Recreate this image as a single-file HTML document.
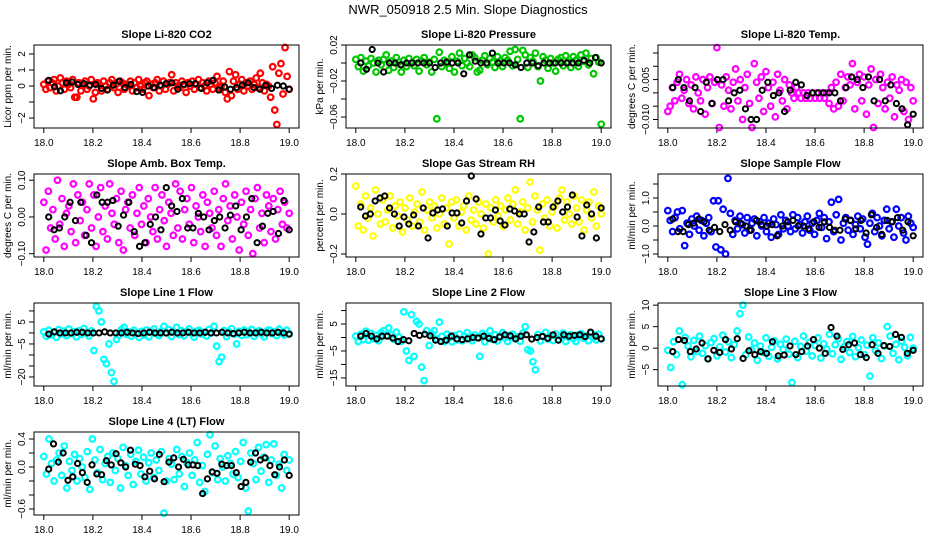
<!DOCTYPE html>
<html><head><meta charset="utf-8">
<style>
html,body{margin:0;padding:0;background:#fff;}
svg{display:block;font-family:"Liberation Sans",sans-serif;}
</style></head>
<body>
<svg id="chart" width="936" height="540" viewBox="0 0 936 540" xmlns="http://www.w3.org/2000/svg">
<rect width="936" height="540" fill="#fff"/>
<text x="468" y="14" text-anchor="middle" font-size="13">NWR_050918  2.5 Min. Slope Diagnostics</text>
</svg>
<script>
const xTicks = [18.0, 18.2, 18.4, 18.6, 18.8, 19.0];
const xTickLabels = ["18.0", "18.2", "18.4", "18.6", "18.8", "19.0"];

const titles = ["Slope Li-820 CO2","Slope Li-820 Pressure","Slope Li-820 Temp.","Slope Amb. Box Temp.","Slope Gas Stream RH","Slope Sample Flow","Slope Line 1 Flow","Slope Line 2 Flow","Slope Line 3 Flow","Slope Line 4 (LT) Flow"];
const yTitles = ["Licor ppm per min.","kPa per min.","degrees C per min.","degrees C per min.","percent per min.","ml/min per min.","ml/min per min.","ml/min per min.","ml/min per min.","ml/min per min."];
const colors = ["#ff0000","#00c800","#ff00ff","#ff00ff","#ffff00","#0000ff","#00ffff","#00ffff","#00ffff","#00ffff"];
const yDomains = [[-2.62,2.56],[-0.0722,0.02],[-0.0132,0.018],[-0.109,0.117],[-0.215,0.2],[-1.107,1.857],[-24.1,13.6],[-18,12.8],[-8.8,10.5],[-0.686,0.5]];
const yTicks = [[-2,-1,0,1,2],[-0.06,-0.04,-0.02,0,0.02],[-0.010,-0.005,0,0.005,0.010,0.015],[-0.1,0,0.1],[-0.2,0,0.2],[-1,-0.5,0,0.5,1,1.5],[-20,-15,-10,-5,0,5,10],[-15,-10,-5,0,5,10],[-5,0,5,10],[-0.6,-0.4,-0.2,0,0.2,0.4]];
const yTickLabels = [["−2","","0","1","2"],["−0.06","","−0.02","","0.02"],["−0.010","","","0.005","",""],["−0.10","0.00","0.10"],["−0.2","0.0","0.2"],["−1.0","","0.0","","1.0",""],["−20","","","−5","","5",""],["−15","","−5","","5",""],["−5","0","5","10"],["−0.6","","","0.0","","0.4"]];

const co2 = [0.1,-0.2,0.3,-0.1,0.2,0.4,-0.3,0.0,0.5,0.2,-0.2,0.3,0.1,-0.1,0.4,-0.7,-0.7,0.2,-0.3,0.1,0.3,-0.2,0.0,0.4,-0.8,-0.4,0.2,0.1,-0.3,0.3,0.0,-0.2,0.2,0.4,-0.1,0.1,-0.4,0.3,0.2,-0.2,0.1,0.0,0.3,-0.3,0.2,-0.1,0.4,0.0,-0.2,0.2,0.3,-0.6,0.1,-0.1,0.2,0.4,-0.3,0.0,0.3,-0.2,0.1,0.2,0.7,-0.3,0.2,0.0,-0.1,0.3,0.1,-0.4,0.2,0.0,0.3,-0.2,0.1,0.4,-0.1,0.2,0.0,-0.3,0.3,0.1,-0.2,0.2,0.6,-0.1,0.0,0.3,-0.4,-0.8,0.9,-0.6,0.3,0.7,-0.2,0.1,0.4,-0.3,0.2,0.0,0.3,-0.2,0.1,0.5,-0.1,0.8,0.2,-0.3,0.1,0.0,-0.7,1.2,-1.5,-2.4,0.8,1.4,-0.5,2.4,0.6,-0.2];
const co2Black = [0.35,-0.05,-0.3,0.2,0.25,0.1,0.15,0.05,0.1,-0.15,-0.25,0.05,0.3,-0.1,0.1,-0.35,-0.4,0.0,-0.1,0.05,0.15,0.2,-0.2,0.1,0.15,0.15,-0.15,0.2,0.35,-0.25,-0.05,-0.2,-0.1,0.05,0.2,-0.1,-0.2,0.05,-0.15,0.05,0.0,-0.2];
const pressure = [0.004,-0.004,0.006,-0.009,0.002,-0.003,0.005,0.0,-0.01,0.003,-0.002,0.004,0.009,-0.008,0.002,-0.005,0.006,0.001,-0.01,0.003,-0.004,0.005,0.0,-0.003,0.004,-0.009,0.002,0.006,-0.002,0.001,-0.01,0.004,-0.062,0.012,-0.004,0.003,0.0,-0.006,0.007,-0.01,0.002,0.011,-0.003,0.005,0.0,-0.004,0.009,0.006,-0.01,-0.008,0.003,0.008,-0.002,0.005,0.001,-0.005,0.007,0.002,-0.004,0.006,0.003,0.013,-0.003,0.015,0.004,-0.062,0.014,0.009,-0.005,0.006,0.002,0.011,-0.004,-0.02,0.007,0.003,-0.006,0.005,0.0,-0.009,0.004,0.006,-0.003,0.008,0.001,-0.005,0.007,0.003,-0.004,0.009,0.002,0.011,-0.002,0.005,-0.012,0.006,0.001,-0.068];
const pressureBlack = [0.0,-0.007,0.015,0.0,-0.01,0.0,0.0,-0.002,0.0,0.0,0.0,0.0,0.0,-0.005,0.0,0.001,0.0,0.0,-0.012,0.009,0.002,0.0,0.0,0.011,0.0,0.0,0.0,-0.002,-0.005,0.0,0.0,-0.003,0.0,0.0,0.0,0.0,0.0,0.0,0.0,0.003,0.0,0.006,0.0];
const licorTemp = [-0.007,-0.005,0.002,-0.003,0.004,0.007,-0.002,0.001,0.005,-0.004,0.003,-0.006,0.006,0.0,-0.003,0.005,-0.008,0.002,0.006,-0.004,0.004,0.017,-0.013,0.003,-0.005,0.006,0.001,-0.006,0.004,0.009,-0.003,0.005,-0.01,0.002,0.007,-0.004,-0.013,0.011,0.004,-0.002,0.006,-0.007,0.008,0.002,-0.005,0.004,-0.009,0.007,0.001,-0.003,0.005,-0.006,0.003,0.0,-0.002,0.002,0.0,-0.002,0.0,-0.002,0.0,-0.002,0.0,-0.002,0.0,-0.002,0.0,-0.002,0.0,-0.004,0.002,-0.006,0.004,-0.005,0.007,-0.003,0.002,0.006,0.003,0.011,-0.006,0.004,0.007,-0.003,0.006,-0.008,0.003,0.009,-0.013,0.005,-0.004,0.007,0.002,-0.006,0.004,-0.002,0.006,-0.009,0.003,0.001,0.005,-0.007,0.004,-0.010,0.002,-0.003];
const licorTempBlack = [0.002,0.005,0.002,-0.003,0.002,-0.007,0.004,-0.004,0.005,0.005,-0.003,0.0,0.001,-0.006,-0.010,-0.010,0.001,0.004,-0.001,0.0,-0.007,0.001,0.004,0.003,-0.001,0.0,0.0,0.0,0.0,0.0,-0.003,0.002,0.006,0.005,0.002,0.006,-0.003,0.005,-0.003,0.003,-0.004,-0.006,-0.012,-0.008];
const boxTemp = [0.04,-0.09,0.07,-0.03,0.02,-0.06,0.10,-0.02,0.05,-0.08,0.01,0.03,-0.04,0.09,-0.07,0.06,-0.01,0.04,-0.05,0.02,0.09,-0.03,0.06,-0.08,0.0,0.08,-0.04,0.03,-0.06,0.09,0.01,-0.02,0.05,-0.07,0.07,-0.09,0.02,0.04,-0.03,0.06,-0.05,0.01,0.08,-0.02,0.03,-0.07,0.05,0.0,-0.04,0.08,-0.06,0.02,0.06,-0.01,-0.08,0.04,0.01,-0.05,0.09,-0.03,0.07,-0.06,0.02,0.05,-0.02,0.08,-0.07,0.03,0.0,-0.04,0.06,-0.08,0.04,0.01,-0.03,0.07,-0.05,0.02,-0.08,0.05,0.09,-0.01,0.03,-0.06,0.06,0.0,-0.09,0.04,-0.02,0.07,-0.05,0.02,-0.10,0.05,0.08,-0.03,0.01,-0.07,0.06,0.03,-0.04,0.05,-0.06,0.02,0.07,-0.02,0.04,-0.03,0.01];
const boxTempBlack = [0.0,-0.035,-0.03,0.0,0.04,-0.01,0.04,-0.05,-0.07,0.06,0.04,0.04,0.045,-0.025,0.005,0.04,-0.04,-0.08,-0.07,-0.02,0.0,-0.035,0.08,0.03,0.015,0.05,-0.03,-0.03,0.01,0.0,-0.035,-0.01,0.0,-0.03,0.005,0.03,-0.035,0.0,0.05,-0.07,-0.025,0.01,0.015,-0.045,0.045,-0.035];
const rh = [0.14,-0.06,0.05,-0.08,0.09,-0.02,0.03,-0.11,0.12,0.0,-0.05,0.07,-0.04,0.02,0.09,-0.07,0.04,-0.01,0.06,-0.09,0.03,-0.03,0.08,-0.06,0.01,0.05,-0.04,0.11,-0.08,0.02,0.06,-0.02,0.04,-0.07,0.0,0.08,-0.05,0.03,-0.15,0.06,-0.02,0.07,-0.06,0.01,0.04,-0.08,0.09,-0.03,0.02,-0.05,0.06,0.0,-0.07,0.05,-0.2,0.03,-0.04,0.07,-0.01,0.04,-0.06,0.02,0.08,-0.03,0.05,0.12,-0.05,0.01,0.06,-0.08,0.03,0.16,-0.04,0.09,0.02,-0.18,0.05,-0.02,0.07,-0.06,0.01,0.04,-0.07,0.08,0.12,-0.03,0.06,0.0,-0.05,0.09,0.03,-0.04,0.07,-0.08,0.02,0.06,-0.02,0.11,-0.06,0.04,0.0];
const rhBlack = [0.035,-0.01,0.0,0.065,0.08,0.09,0.03,0.0,-0.06,-0.015,-0.05,-0.005,-0.06,0.03,-0.12,0.005,0.02,0.025,-0.06,0.005,0.005,-0.045,0.065,0.19,0.075,-0.1,-0.02,-0.02,0.02,-0.035,-0.055,0.025,0.015,0.0,0.0,-0.14,-0.09,0.035,-0.04,-0.04,0.035,0.065,0.01,0.035,0.095,-0.015,-0.11,0.045,0.0,-0.12,0.03];
const sampleFlow = [0.55,0.2,-0.2,0.3,0.5,-0.1,0.55,-0.7,0.1,-0.3,0.25,0.0,0.35,-0.15,0.2,-0.35,0.1,0.3,-0.2,0.9,-0.75,0.9,-0.85,0.6,-1.0,1.7,0.45,-0.3,0.2,-0.1,0.35,0.05,-0.25,0.3,-0.15,0.1,0.25,-0.35,0.15,0.0,0.3,-0.2,0.1,-0.4,0.25,0.05,-0.3,0.4,-0.1,0.2,0.0,-0.2,0.4,-0.1,0.3,0.05,-0.25,0.15,0.35,-0.15,0.1,-0.3,0.2,0.45,-0.05,0.3,-0.45,0.15,0.85,-0.2,0.4,0.95,-0.5,0.1,0.3,-0.15,0.2,-0.3,0.05,0.35,-0.1,0.25,-0.4,-0.65,0.1,0.45,-0.2,0.3,0.0,-0.35,0.2,0.6,-0.1,0.15,-0.4,0.6,0.0,0.3,-0.25,-0.5,0.35,0.1,-0.05];
const sampleFlowBlack = [0.25,-0.2,-0.2,0.05,0.1,0.25,0.15,-0.15,-0.05,-0.2,0.05,-0.15,0.15,0.1,0.0,-0.15,0.2,0.05,0.0,0.05,-0.35,0.0,0.15,0.2,0.0,0.0,-0.1,0.15,-0.05,0.15,-0.05,-0.15,-0.15,0.25,0.2,-0.1,0.2,-0.25,0.4,-0.05,-0.3,0.2,0.15,0.3,-0.15,0.15,-0.35];
const line1 = [0.5,-1.5,1.2,-0.8,0.3,-2,1.5,-0.5,0.8,-1.2,1.8,-0.3,0.6,-1.8,1,-0.7,2,0.2,-1.4,0.9,-8,12,10,5,-12,-14,-5,-18,-22,-3,-1,1.5,2.5,-0.6,0.4,-1.5,1.2,0.0,-2,0.7,-0.9,1.3,-1.8,0.5,1.8,-0.4,-1.2,0.9,3,0.0,1.5,-1.6,0.3,2.5,-0.7,1.0,-1.3,0.6,1.8,-0.2,-1.9,0.8,1.2,-0.5,0.2,-1.4,1.6,0.0,3,-6,-13,-11,1.1,-1.7,0.4,1.9,-0.6,-5,0.7,-1.1,1.3,-0.8,0.5,1.6,-1.5,0.2,1.0,-0.4,-1.8,0.9,1.4,-0.3,0.6,-1.2,1.7,0.1,-0.9,1.2,-0.5];
const line1Black = [-0.5,0.5,0.0,0.0,0.0,0.3,0.3,0.0,0.0,0.0,0.5,0.0,0.0,0.0,0.3,0.0,-0.3,0.0,0.3,0.0,0.0,0.0,0.3,0.0,0.0,0.3,0.0,0.0,0.3,0.0,0.0,0.3,0.0,-0.3,0.0,0.3,0.0,0.0,0.3,0.0,0.0,0.3,0.0,-0.5];
const line2 = [0.5,-1.5,1.2,-0.8,2.3,-1.0,1.5,-0.5,0.8,-1.2,1.8,2.5,0.6,3.5,1,-0.7,2,0.2,-1.4,9.5,-5,-8.5,8.5,-7,6,5,-11,-16,2.5,-3,1.5,2.5,-0.6,5.7,0.4,-1.5,1.2,0.0,-1.6,0.7,-0.9,1.3,-1.2,0.5,1.8,-0.4,-1.2,0.9,0.0,-7,1.5,-1.6,0.3,2.5,-0.7,1.0,-1.3,0.6,1.8,-0.2,-1.5,0.8,1.2,-0.5,0.2,-1.4,1.6,4,-4.5,-5,-9,-12,1.1,-1.3,0.4,1.9,-0.6,0.7,-1.1,1.3,-0.8,0.5,1.6,-1.5,0.2,1.0,-0.4,-1.5,0.9,1.4,-0.3,0.6,-1.2,1.7,0.1,-0.9,1.2,-0.5];
const line2Black = [0.5,1.5,0.5,-0.5,0.5,0.5,-0.2,-1.5,-0.8,-1.2,1.5,0.8,1.2,0.6,-1.0,-1.5,-1.0,0.5,-0.5,-0.8,-0.5,0.0,-0.2,0.5,-0.3,-0.8,0.2,1.0,0.6,-0.5,0.5,1.0,-0.6,0.0,0.4,-0.3,1.0,-1.0,1.0,0.5,0.8,1.0,0.3,2.0,0.5,-0.5];
const line3 = [-0.5,-4.5,1.5,-1.5,4,-8.5,2.5,0.5,-2,1.8,-0.8,2.8,-1.2,0.6,-2.5,1.3,2.2,-1.8,0.3,3,-0.9,1.5,-2.2,0.8,4,8,10,-1.5,2.6,-0.4,1.2,-2.8,0.5,-1,2.4,-1.9,0.2,1.7,-2.5,0.9,-0.3,2.1,-1.4,-8,1.6,-2.2,0.4,2.8,-0.7,1.3,-1.8,0.6,2.4,-2.3,1.0,-0.2,3.2,-1.3,0.8,2.2,-2.6,0.3,1.5,-1.0,2.7,-2.0,0.1,1.9,-1.5,0.7,-6.5,2.4,-0.6,1.2,-2.4,0.5,5,2.8,-1.2,0.9,-2.7,1.6,0.2,-1.8,2.5,0.0];
const line3Black = [-0.8,2,1.8,-0.8,-0.2,1.2,-2.5,-0.5,-1.0,2,-0.2,2.2,-2.4,-0.6,-1.5,-0.8,-1.2,1.5,-1.8,-1.6,0.5,-1.5,-0.8,0.5,2,0,-1.2,4.8,2.8,-0.3,0.8,1.2,-1.5,-2.2,0.8,-1.2,0.6,0.4,3.2,2.5,-1.2,-0.5];
const line4 = [0.15,-0.1,0.4,0.05,-0.2,0.1,0.2,-0.12,0.3,-0.3,0.08,-0.05,0.18,-0.2,0.12,0.0,-0.15,0.22,-0.32,0.4,0.1,-0.08,0.25,-0.18,0.05,0.15,-0.22,0.2,-0.05,0.12,-0.3,0.28,0.02,-0.12,0.18,-0.25,0.08,0.24,-0.1,0.14,-0.2,0.06,0.2,-0.15,0.1,-0.05,0.22,-0.66,-0.2,0.12,0.04,-0.18,0.25,-0.1,0.15,-0.28,0.06,0.2,-0.12,0.1,0.35,-0.22,0.02,-0.35,0.18,0.46,-0.08,0.3,-0.18,0.12,0.0,-0.2,0.16,0.05,-0.1,0.22,-0.15,0.08,0.35,-0.3,-0.63,0.2,0.05,-0.18,0.28,-0.06,0.14,0.32,-0.22,0.1,0.33,-0.12,0.04,-0.3,0.18,-0.05,0.1];
const line4Black = [-0.03,0.33,0.07,0.2,-0.19,-0.14,0.05,-0.08,-0.22,0.03,-0.1,-0.11,0.09,0.03,0.19,0.06,0.0,0.24,0.04,0.02,-0.14,-0.06,-0.17,0.18,-0.21,0.07,0.13,0.0,0.11,0.03,0.03,0.02,-0.38,-0.17,-0.07,-0.09,0.04,0.02,0.02,-0.08,-0.28,-0.22,0.07,0.2,0.1,0.13,0.02,-0.11,0.0,0.1,-0.12];

const coloredSeries = [co2, pressure, licorTemp, boxTemp, rh, sampleFlow, line1, line2, line3, line4];
const blackSeries = [co2Black, pressureBlack, licorTempBlack, boxTempBlack, rhBlack, sampleFlowBlack, line1Black, line2Black, line3Black, line4Black];
const blackStart = 18.02, blackEnd = 19.0;

const NS = "http://www.w3.org/2000/svg";
const svg = document.getElementById("chart");
function mk(tag, attrs, parent){const e=document.createElementNS(NS,tag);for(const k in attrs)e.setAttribute(k,attrs[k]);(parent||svg).appendChild(e);return e;}

const BOX_W = 265, BOX_H = 83;
for (let p = 0; p < 10; p++) {
  const col = p % 3, row = Math.floor(p / 3);
  const L = 34 + 312 * col, T = 45 + 129 * row;
  const g = mk("g", {});
  
  
  const xS = v => L + (v - 17.96) / 1.08 * BOX_W;
  const [y0, y1] = yDomains[p];
  const yS = v => T + BOX_H - (v - y0) / (y1 - y0) * BOX_H;

  const t = mk("text", {x: L + BOX_W / 2, y: T - 7, "text-anchor": "middle", "font-size": "11", "font-weight": "bold"}, g);
  t.textContent = titles[p];
  
  

  const yt = mk("text", {transform: `translate(${L - 23},${T + BOX_H / 2}) rotate(-90)`, "text-anchor": "middle", "font-size": "10"}, g);
  yt.textContent = yTitles[p];
  
  

  const xa = mk("g", {}, g);
  
  
  xTicks.forEach((v, i) => {
    mk("line", {x1: xS(v), x2: xS(v), y1: T + BOX_H, y2: T + BOX_H + 5, stroke: "#000"}, xa);
    const lb = mk("text", {x: xS(v), y: T + BOX_H + 18, "text-anchor": "middle", "font-size": "10"}, xa);
    lb.textContent = xTickLabels[i];
    
    
  });
  const ya = mk("g", {}, g);
  
  
  const tv = yTicks[p];
  tv.forEach((v, i) => {
    if (v < y0 || v > y1) return;
    mk("line", {x1: L - 5, x2: L, y1: yS(v), y2: yS(v), stroke: "#000"}, ya);
    const s = yTickLabels[p][i];
    if (s) {
      const lb = mk("text", {transform: `translate(${L - 9},${yS(v)}) rotate(-90)`, "text-anchor": "middle", "font-size": "10"}, ya);
      lb.textContent = s;
      
      
    }
  });

  const cs = coloredSeries[p];
  const cg = mk("g", {fill: "none", stroke: colors[p], "stroke-width": "2.2"}, g);
  
  
  cs.forEach((v, i) => {
    const c = mk("circle", {cx: xS(18 + i / (cs.length - 1)), cy: yS(v), r: 2.8}, cg);
    
    
  });
  const bs = blackSeries[p];
  const bg = mk("g", {fill: "none", stroke: "#000", "stroke-width": "2"}, g);
  
  
  bs.forEach((v, i) => {
    const c = mk("circle", {cx: xS(blackStart + (blackEnd - blackStart) * i / (bs.length - 1)), cy: yS(v), r: 2.6}, bg);
    
    
  });

  const box = mk("rect", {x: L, y: T, width: BOX_W, height: BOX_H, fill: "none", stroke: "#000"}, g);
  
  
}
</script>
</body></html>
